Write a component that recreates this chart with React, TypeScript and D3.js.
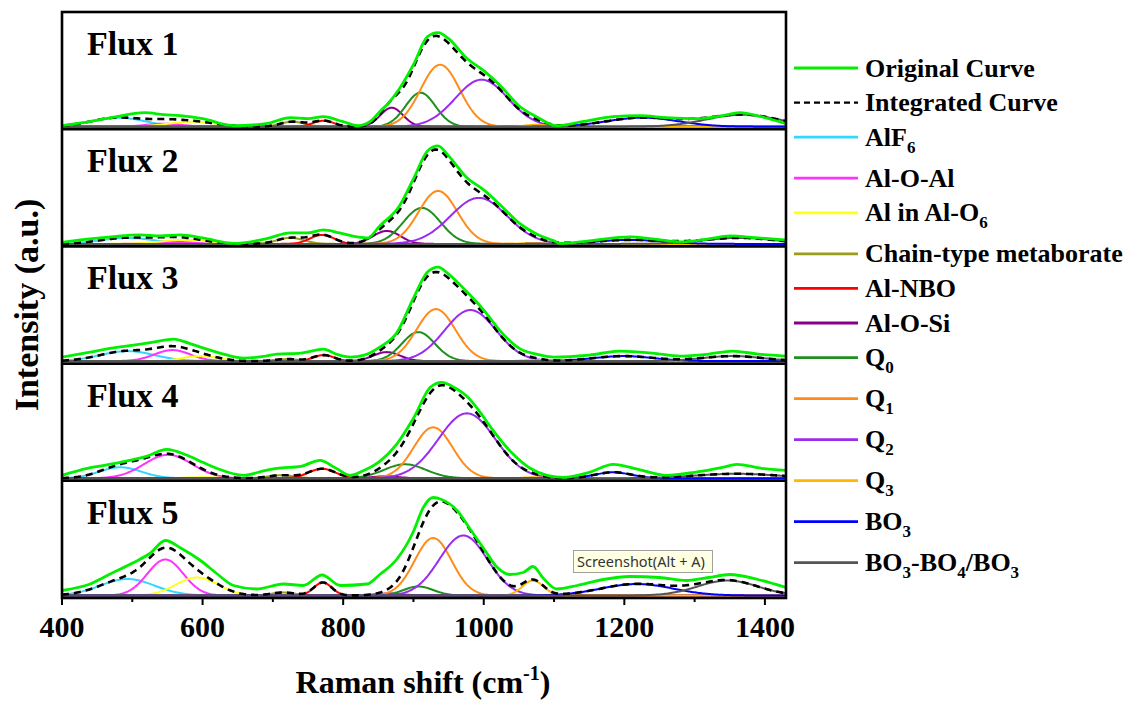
import React from "react";
import * as d3 from "d3";

// ---------------- DATA ----------------
const panelNames = ["Flux 1", "Flux 2", "Flux 3", "Flux 4", "Flux 5"];
const xMajorTicks = [400, 600, 800, 1000, 1200, 1400];
const xMinorTicks = [500, 700, 900, 1100, 1300];
const xDomain = [400, 1430];

// Original (measured) curves: [Raman shift, intensity a.u.]
const original1 = [[400,1],[430,4],[470,9],[518,14],[545,12],[568,11],[600,8],[644,1],[690,3],[725,9],[750,8],[772,10],[800,5],[821,1],[840,6],[852,15],[865,24],[880,38],[900,62],[920,90],[935,94],[950,88],[975,69],[1000,56],[1025,40],[1050,21],[1075,10],[1104,1],[1140,5],[1184,10],[1222,11],[1260,9],[1303,8],[1340,11],[1364,14],[1395,10],[1430,3]];
const original2 = [[400,1.5],[440,5],[470,7],[511,9],[540,8],[568,9],[600,6],[644,0.5],[690,5],[725,11],[750,11],[772,14],[795,11],[820,7],[835,6],[852,18],[880,38],[900,65],[920,93],[935,98],[950,88],[975,67],[1000,54],[1025,38],[1050,21],[1075,10],[1100,3],[1109,0.5],[1150,3],[1208,7],[1240,5],[1279,2],[1320,5],[1350,8],[1390,6],[1430,4]];
const original3 = [[400,4],[440,9],[470,13],[502,16],[530,19],[559,22],[580,18],[597,14],[630,7],[658,3],[690,5],[706,7],[740,8],[772,12],[790,7],[810,4],[830,6],[852,14],[876,28],[900,63],[920,89],[935,94],[950,87],[975,70],[1000,51],[1025,29],[1050,13],[1075,7],[1100,4],[1150,6],[1194,10],[1240,8],[1279,5],[1320,7],[1354,10],[1390,7],[1430,5]];
const original4 = [[400,3],[436,10],[460,13],[483,16],[520,22],[549,29],[578,23],[600,16],[620,10],[658,3],[690,8],[706,10],[740,12],[767,18],[790,10],[810,3],[830,8],[852,17],[876,34],[900,60],[924,91],[940,96],[960,90],[976,82],[995,66],[1009,52],[1042,24],[1066,10],[1090,3],[1114,1],[1150,6],[1184,14],[1220,9],[1260,3],[1300,6],[1340,11],[1360,14],[1395,10],[1430,8]];
const original5 = [[400,5],[440,11.5],[470,22],[502,33],[525,42],[547,55],[570,47],[597,35],[620,22],[644,10],[677,6.5],[715,11.5],[743,10],[770,20.5],[796,10],[834,11.5],[852,21],[876,36],[900,64],[914,88],[928,98],[940,96],[962,85],[981,66],[1000,47],[1018,29],[1037,21],[1056,23],[1070,29],[1085,17],[1104,6.5],[1133,10],[1170,16],[1208,19],[1250,18],[1289,15],[1320,18],[1350,21],[1390,16],[1430,8]];
const originalCurves = [original1, original2, original3, original4, original5];

// Fitted components per panel: [center, height, FWHM]
const alF6Peaks    = [[480,9,90],[493,6,90],[493,10,90],[483,11,70],[493,16.5,90]];
const alOAlPeaks   = [[545,3,60],[560,2,60],[557,11,60],[551,23.5,80],[547,36,60]];
const alInAlO6Peaks= [[585,5,80],[575,4,80],[597,5,60],[600,1,60],[592,18,70]];
const chainPeaks   = [[728,5,40],[725,6,45],[720,2,40],[712,3,45],[715,3,40]];
const alNBOPeaks   = [[772,6,35],[770,9,40],[772,6,35],[770,9.5,45],[771,13,30]];
const alOSiPeaks   = [[869,19,38],[862,13,45],[862,9,45],[860,2,45],[865,2,45]];
const q0Peaks      = [[910,34,50],[912,36,62],[907,29,55],[888,14,70],[907,9,50]];
const q1Peaks      = [[938,62,65],[935,53,65],[932,52,65],[928,51,65],[928,57.5,62]];
const q2Peaks      = [[997,47,88],[993,46,95],[981,51,86],[976,65,95],[971,60,80]];
const q3Peaks      = [[1075,2,35],[1070,1,35],[1070,1,35],[1070,1,35],[1070,15,35]];
const bo3Peaks     = [[1226,9,120],[1208,4,110],[1199,5,100],[1184,6,60],[1218,11.5,120]];
const bo3bo4Peaks  = [[1368,12,120],[1364,6,120],[1354,5,100],[1360,4.5,140],[1347,15,100]];

const componentNames = ["AlF_6","Al-O-Al","Al in Al-O_6","Chain-type metaborate","Al-NBO","Al-O-Si","Q_0","Q_1","Q_2","Q_3","BO_3","BO_3-BO_4/BO_3"];
const componentColors = ["#33d6ff","#ff33ff","#ffff1a","#9c9c1c","#ff0000","#880088","#1f8f1f","#ff8c1a","#9a2bef","#ffb700","#0000ff","#555555"];
const componentPeaks = [alF6Peaks, alOAlPeaks, alInAlO6Peaks, chainPeaks, alNBOPeaks, alOSiPeaks, q0Peaks, q1Peaks, q2Peaks, q3Peaks, bo3Peaks, bo3bo4Peaks];

const legendNames = ["Original Curve", "Integrated Curve", ...componentNames];
const legendColors = ["#00f000", "#000000", ...componentColors];

// ---------------- LAYOUT ----------------
const W = 1145, H = 702;
const frameL = 62, frameR = 786, frameT = 12, frameB = 598;
const panelH = (frameB - frameT) / panelNames.length;
const serif = "'Liberation Serif', 'Times New Roman', serif";

const gauss = (x: number, p: number[]) => p[1] * Math.exp(-4 * Math.LN2 * (x - p[0]) * (x - p[0]) / (p[2] * p[2]));

function renderLabel(label: string, subSize: number, subDy: number) {
  const parts = label.split(/(_\d)/).filter((s) => s.length > 0);
  const out: any[] = [];
  let shifted = false;
  parts.forEach((p, i) => {
    if (p.startsWith("_")) {
      out.push(<tspan key={i} dy={subDy} fontSize={subSize}>{p.slice(1)}</tspan>);
      shifted = true;
    } else {
      out.push(<tspan key={i} dy={shifted ? -subDy : 0}>{p}</tspan>);
      shifted = false;
    }
  });
  return out;
}

export default function App() {
  const x = d3.scaleLinear().domain(xDomain).range([frameL, frameR]);
  const xs = d3.range(400, 1431, 2);

  const panels = panelNames.map((name, pi) => {
    const top = frameT + pi * panelH;
    const bottom = top + panelH;
    const base = bottom - 2.5;
    const y = d3.scaleLinear().domain([0, 110]).range([base, base - 110]);
    const line = d3.line<number[]>().x((d) => x(d[0])).y((d) => y(d[1]));
    const smooth = d3.line<number[]>().x((d) => x(d[0])).y((d) => y(d[1])).curve(d3.curveMonotoneX);
    const comps = componentPeaks.map((peaks) => xs.map((xv) => [xv, gauss(xv, peaks[pi])]));
    const integrated = xs.map((xv) => [xv, d3.sum(componentPeaks, (peaks) => gauss(xv, peaks[pi]))]);
    return (
      <g key={name}>
        <clipPath id={`clip${pi}`}>
          <rect x={frameL} y={top} width={frameR - frameL} height={panelH} />
        </clipPath>
        <g clipPath={`url(#clip${pi})`}>
          {comps.map((c, ci) => (
            <path key={ci} d={line(c) || ""} fill="none" stroke={componentColors[ci]} strokeWidth={2} />
          ))}
          <path d={line(integrated) || ""} fill="none" stroke="#000" strokeWidth={2.6} strokeDasharray="7,5" />
          <path d={smooth(originalCurves[pi]) || ""} fill="none" stroke="#00f000" strokeWidth={2.8} />
        </g>
        <text x={87} y={top + 43} fontFamily={serif} fontWeight="bold" fontSize={34} fill="#000">{name}</text>
      </g>
    );
  });

  // legend y positions
  const legendY: number[] = [];
  legendNames.forEach((n, i) => {
    if (i === 0) legendY.push(68);
    else legendY.push(legendY[i - 1] + (legendNames[i - 1].includes("_") ? 41 : 34.6));
  });

  return (
    <svg width={W} height={H} style={{ position: "absolute", left: 0, top: 0, background: "#fff" }}>
      <rect x={0} y={0} width={W} height={H} fill="#fff" />
      {panels}
      {/* frame and separators */}
      <rect x={frameL} y={frameT} width={frameR - frameL} height={frameB - frameT} fill="none" stroke="#000" strokeWidth={2.6} />
      {panelNames.slice(1).map((_, i) => (
        <line key={i} x1={frameL} x2={frameR} y1={frameT + (i + 1) * panelH} y2={frameT + (i + 1) * panelH} stroke="#000" strokeWidth={2.6} />
      ))}
      {/* x axis */}
      {xMajorTicks.map((t) => (
        <g key={t}>
          <line x1={x(t)} x2={x(t)} y1={frameB} y2={frameB + 7} stroke="#000" strokeWidth={2} />
          <text x={x(t)} y={637} textAnchor="middle" fontFamily={serif} fontWeight="bold" fontSize={30} fill="#000">{t}</text>
        </g>
      ))}
      {xMinorTicks.map((t) => (
        <line key={t} x1={x(t)} x2={x(t)} y1={frameB} y2={frameB + 4} stroke="#000" strokeWidth={2} />
      ))}
      <text x={423} y={693} textAnchor="middle" fontFamily={serif} fontWeight="bold" fontSize={32} fill="#000">
        Raman shift (cm<tspan dy={-13} fontSize={20}>-1</tspan><tspan dy={13}>)</tspan>
      </text>
      <text transform="translate(38,305) rotate(-90)" textAnchor="middle" fontFamily={serif} fontWeight="bold" fontSize={34} fill="#000">
        Intensity (a.u.)
      </text>
      {/* legend */}
      {legendNames.map((n, i) => (
        <g key={n}>
          <line x1={794} x2={858} y1={legendY[i]} y2={legendY[i]} stroke={legendColors[i]} strokeWidth={i === 1 ? 2.2 : 2.8} strokeDasharray={i === 1 ? "6,4" : undefined} />
          <text x={865} y={legendY[i] + 8.5} fontFamily={serif} fontWeight="bold" fontSize={26} fill="#000">
            {renderLabel(n, 17, 7)}
          </text>
        </g>
      ))}
      {/* screenshot tooltip present in the reference */}
      <rect x={573.5} y={550.5} width={139} height={22} fill="#ffffe4" stroke="#a0a0a0" strokeWidth={1} />
      <text x={577} y={566.5} fontFamily="'Noto Sans', 'DejaVu Sans', sans-serif" fontSize={14.5} fill="#333">Screenshot(Alt + A)</text>
    </svg>
  );
}
